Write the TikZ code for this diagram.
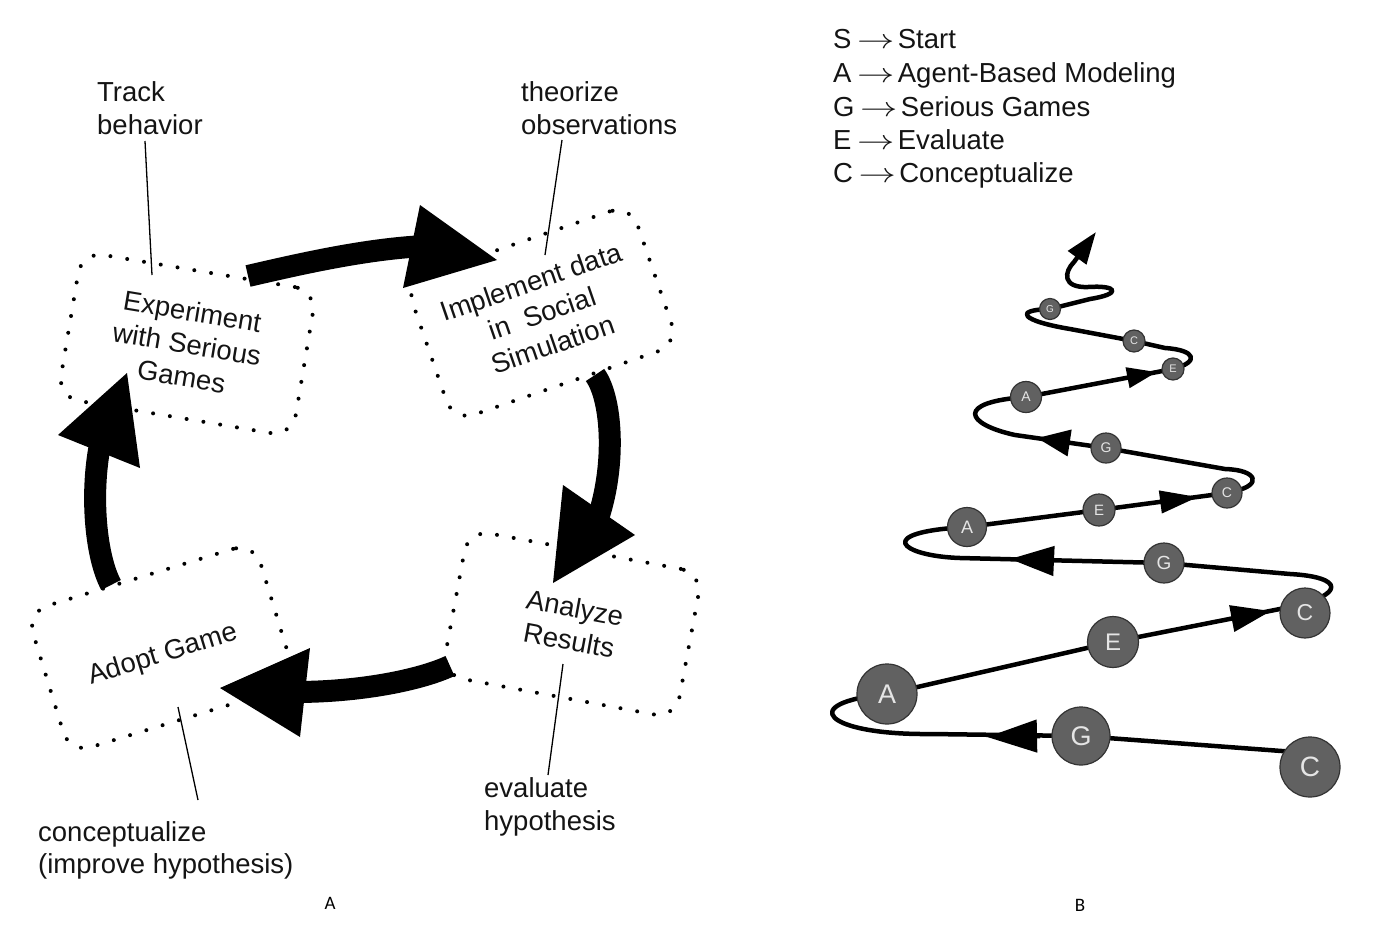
\documentclass[tikz,border=0pt]{standalone}
\usepackage{fontspec}
\usepackage{graphicx}
\setmainfont{Liberation Sans}
\newfontfamily\labfont{Carlito}
\usetikzlibrary{arrows.meta,backgrounds}
\tikzset{
  txt/.style={font=\fontsize{27.5}{33}\selectfont, inner sep=0pt, text=black!92},
  cyclebox/.style={draw, line width=4pt, dash pattern=on 0pt off 17pt, line cap=round,
    rounded corners=22pt, minimum width=238pt, minimum height=148pt, align=center,
    inner sep=0pt, text=black!92, font=\fontsize{27.5}{33}\selectfont},
  bigarrow/.style={line width=22pt},
  callout/.style={line width=1.3pt},
  spiral/.style={line width=4.5pt, line join=round},
  spc/.style={circle, draw=black!80, fill=black!62, line width=1.2pt, text=black!10, inner sep=0pt},
}
\newcommand\legarr{\hspace{5.5pt}\scalebox{1.5}[1.1]{$\rightarrow$}\hspace{3.5pt}}
\begin{document}
\begin{tikzpicture}[x=1pt,y=-1pt]
\useasboundingbox (0,0) rectangle (1385,935);

% ---------------- Panel A ----------------
\node[cyclebox, rotate=-9.5] (exp) at (187,344) {Experiment\\with Serious\\Games};
\node[cyclebox, rotate=19] (impl) at (542,313) {Implement data\\in\ \ Social\\Simulation};
\node[cyclebox, rotate=-10.5] (ana) at (572,624) {Analyze\\Results};
\node[cyclebox, rotate=17] (adopt) at (162,648) {};
\node[txt, rotate=17] (adoptt) at (163,655) {Adopt Game};

% big cycle arrows
\coordinate (a1s) at (248,276); \coordinate (a1e) at (425,246);
\draw[bigarrow] (a1s) .. controls (300,264) and (365,249) .. (a1e);
\fill (420,205) -- (497,260) -- (403,288) -- cycle;

\coordinate (a2s) at (595,375); \coordinate (a2e) at (596,524);
\draw[bigarrow] (a2s) .. controls (613,400) and (616,470) .. (a2e);
\fill (563,485) -- (635,535) -- (553,583) -- cycle;

\coordinate (a3s) at (450,666); \coordinate (a3e) at (295,692);
\draw[bigarrow] (a3s) .. controls (420,680) and (360,692) .. (a3e);
\fill (310,648) -- (300,737) -- (220,688) -- cycle;

\coordinate (a4s) at (111,585); \coordinate (a4e) at (101,440);
\draw[bigarrow] (a4s) .. controls (95,555) and (90,490) .. (a4e);
\fill (58,435) -- (127,373) -- (140,468) -- cycle;

% callout texts
\node[txt, anchor=base west] (trk1) at (97,101) {Track};
\node[txt, anchor=base west] (trk2) at (97,134) {behavior};
\node[txt, anchor=base west] (th1) at (521,101) {theorize};
\node[txt, anchor=base west] (th2) at (521,134) {observations};
\node[txt, anchor=base west] (ev1) at (484,797) {evaluate};
\node[txt, anchor=base west] (ev2) at (484,830) {hypothesis};
\node[txt, anchor=base west] (co1) at (38,841) {conceptualize};
\node[txt, anchor=base west] (co2) at (38,873) {(improve hypothesis)};

\coordinate (trkA) at (145,141); \coordinate (trkB) at (152,275);
\coordinate (thA) at (562,140); \coordinate (thB) at (545,255);
\coordinate (evA) at (563,664); \coordinate (evB) at (548,775);
\coordinate (coA) at (178,707); \coordinate (coB) at (198,800);
\draw[callout] (trkA) -- (trkB);
\draw[callout] (thA) -- (thB);
\draw[callout] (evA) -- (evB);
\draw[callout] (coA) -- (coB);

\node[font=\labfont\fontsize{19}{19}\selectfont, inner sep=0pt] (labA) at (330,903) {A};
\node[font=\labfont\fontsize{19}{19}\selectfont, inner sep=0pt] (labB) at (1080,905) {B};

% ---------------- Panel B ----------------
\node[txt, anchor=base west] (lg1) at (833,48) {S\legarr Start};
\node[txt, anchor=base west] (lg2) at (833,82) {A\legarr Agent-Based Modeling};
\node[txt, anchor=base west] (lg3) at (833,116) {G\legarr Serious Games};
\node[txt, anchor=base west] (lg4) at (833,149) {E\legarr Evaluate};
\node[txt, anchor=base west] (lg5) at (833,182) {C\legarr Conceptualize};

\node[spc, minimum size=60pt, font=\fontsize{28}{28}\selectfont] (c1) at (1310,767) {C};
\node[spc, minimum size=58pt, font=\fontsize{27}{27}\selectfont] (g1) at (1081,736) {G};
\node[spc, minimum size=60pt, font=\fontsize{27}{27}\selectfont] (a1) at (887,694) {A};
\node[spc, minimum size=51pt, font=\fontsize{24}{24}\selectfont] (e1) at (1113,642) {E};
\node[spc, minimum size=50pt, font=\fontsize{23}{23}\selectfont] (c2) at (1305,613) {C};
\node[spc, minimum size=40pt, font=\fontsize{19}{19}\selectfont] (g2) at (1164,563) {G};
\node[spc, minimum size=39pt, font=\fontsize{18}{18}\selectfont] (a2) at (967,527) {A};
\node[spc, minimum size=32pt, font=\fontsize{15}{15}\selectfont] (e2) at (1099,510) {E};
\node[spc, minimum size=30pt, font=\fontsize{14}{14}\selectfont] (c3) at (1227,493) {C};
\node[spc, minimum size=30pt, font=\fontsize{14}{14}\selectfont] (g3) at (1106,448) {G};
\node[spc, minimum size=31pt, font=\fontsize{14}{14}\selectfont] (a3) at (1026,397) {A};
\node[spc, minimum size=22pt, font=\fontsize{11}{11}\selectfont] (e3) at (1173,369) {E};
\node[spc, minimum size=22pt, font=\fontsize{11}{11}\selectfont] (c4) at (1134,341) {C};
\node[spc, minimum size=21pt, font=\fontsize{10}{10}\selectfont] (g4) at (1050,309) {G};

\coordinate (s0) at (1295,752);
\coordinate (top) at (1096,232);
\begin{scope}[on background layer]
\draw[spiral, -{Triangle[length=32pt,width=22pt]}]
  (s0) -- (g1.center) -- (930,734)
  .. controls (825,735) and (795,703) .. (a1.center)
  -- (e1.center) -- (1290,607)
  .. controls (1345,595) and (1345,577) .. (1290,574)
  -- (g2.center) -- (960,558)
  .. controls (900,556) and (872,532) .. (a2.center)
  -- (e2.center) -- (c3.center) -- (1235,491)
  .. controls (1262,485) and (1258,470) .. (1225,469)
  -- (g3.center) -- (1015,435)
  .. controls (965,424) and (955,402) .. (a3.center)
  -- (e3.center)
  .. controls (1200,362) and (1196,350) .. (1165,348)
  -- (c4.center) -- (1070,329)
  .. controls (1022,321) and (1012,310) .. (g4.center)
  -- (1090,299)
  .. controls (1122,294) and (1118,285) .. (1088,287)
  .. controls (1062,288) and (1064,272) .. (1074,262)
  -- (top);
% mid-line arrowheads
\draw[spiral, -{Triangle[length=50pt,width=32pt]}] (1040,736) -- (987,737);
\draw[spiral, -{Triangle[length=40pt,width=26pt]}] (1232,618.5) -- (1271,611);
\draw[spiral, -{Triangle[length=44pt,width=29pt]}] (1054,561) -- (1010,559);
\draw[spiral, -{Triangle[length=38pt,width=22pt]}] (1160,502) -- (1198,497);
\draw[spiral, -{Triangle[length=33pt,width=26pt]}] (1070,443) -- (1037,438);
\draw[spiral, -{Triangle[length=30pt,width=20pt]}] (1128,377.6) -- (1157,372);
\end{scope}
\end{tikzpicture}
\end{document}
